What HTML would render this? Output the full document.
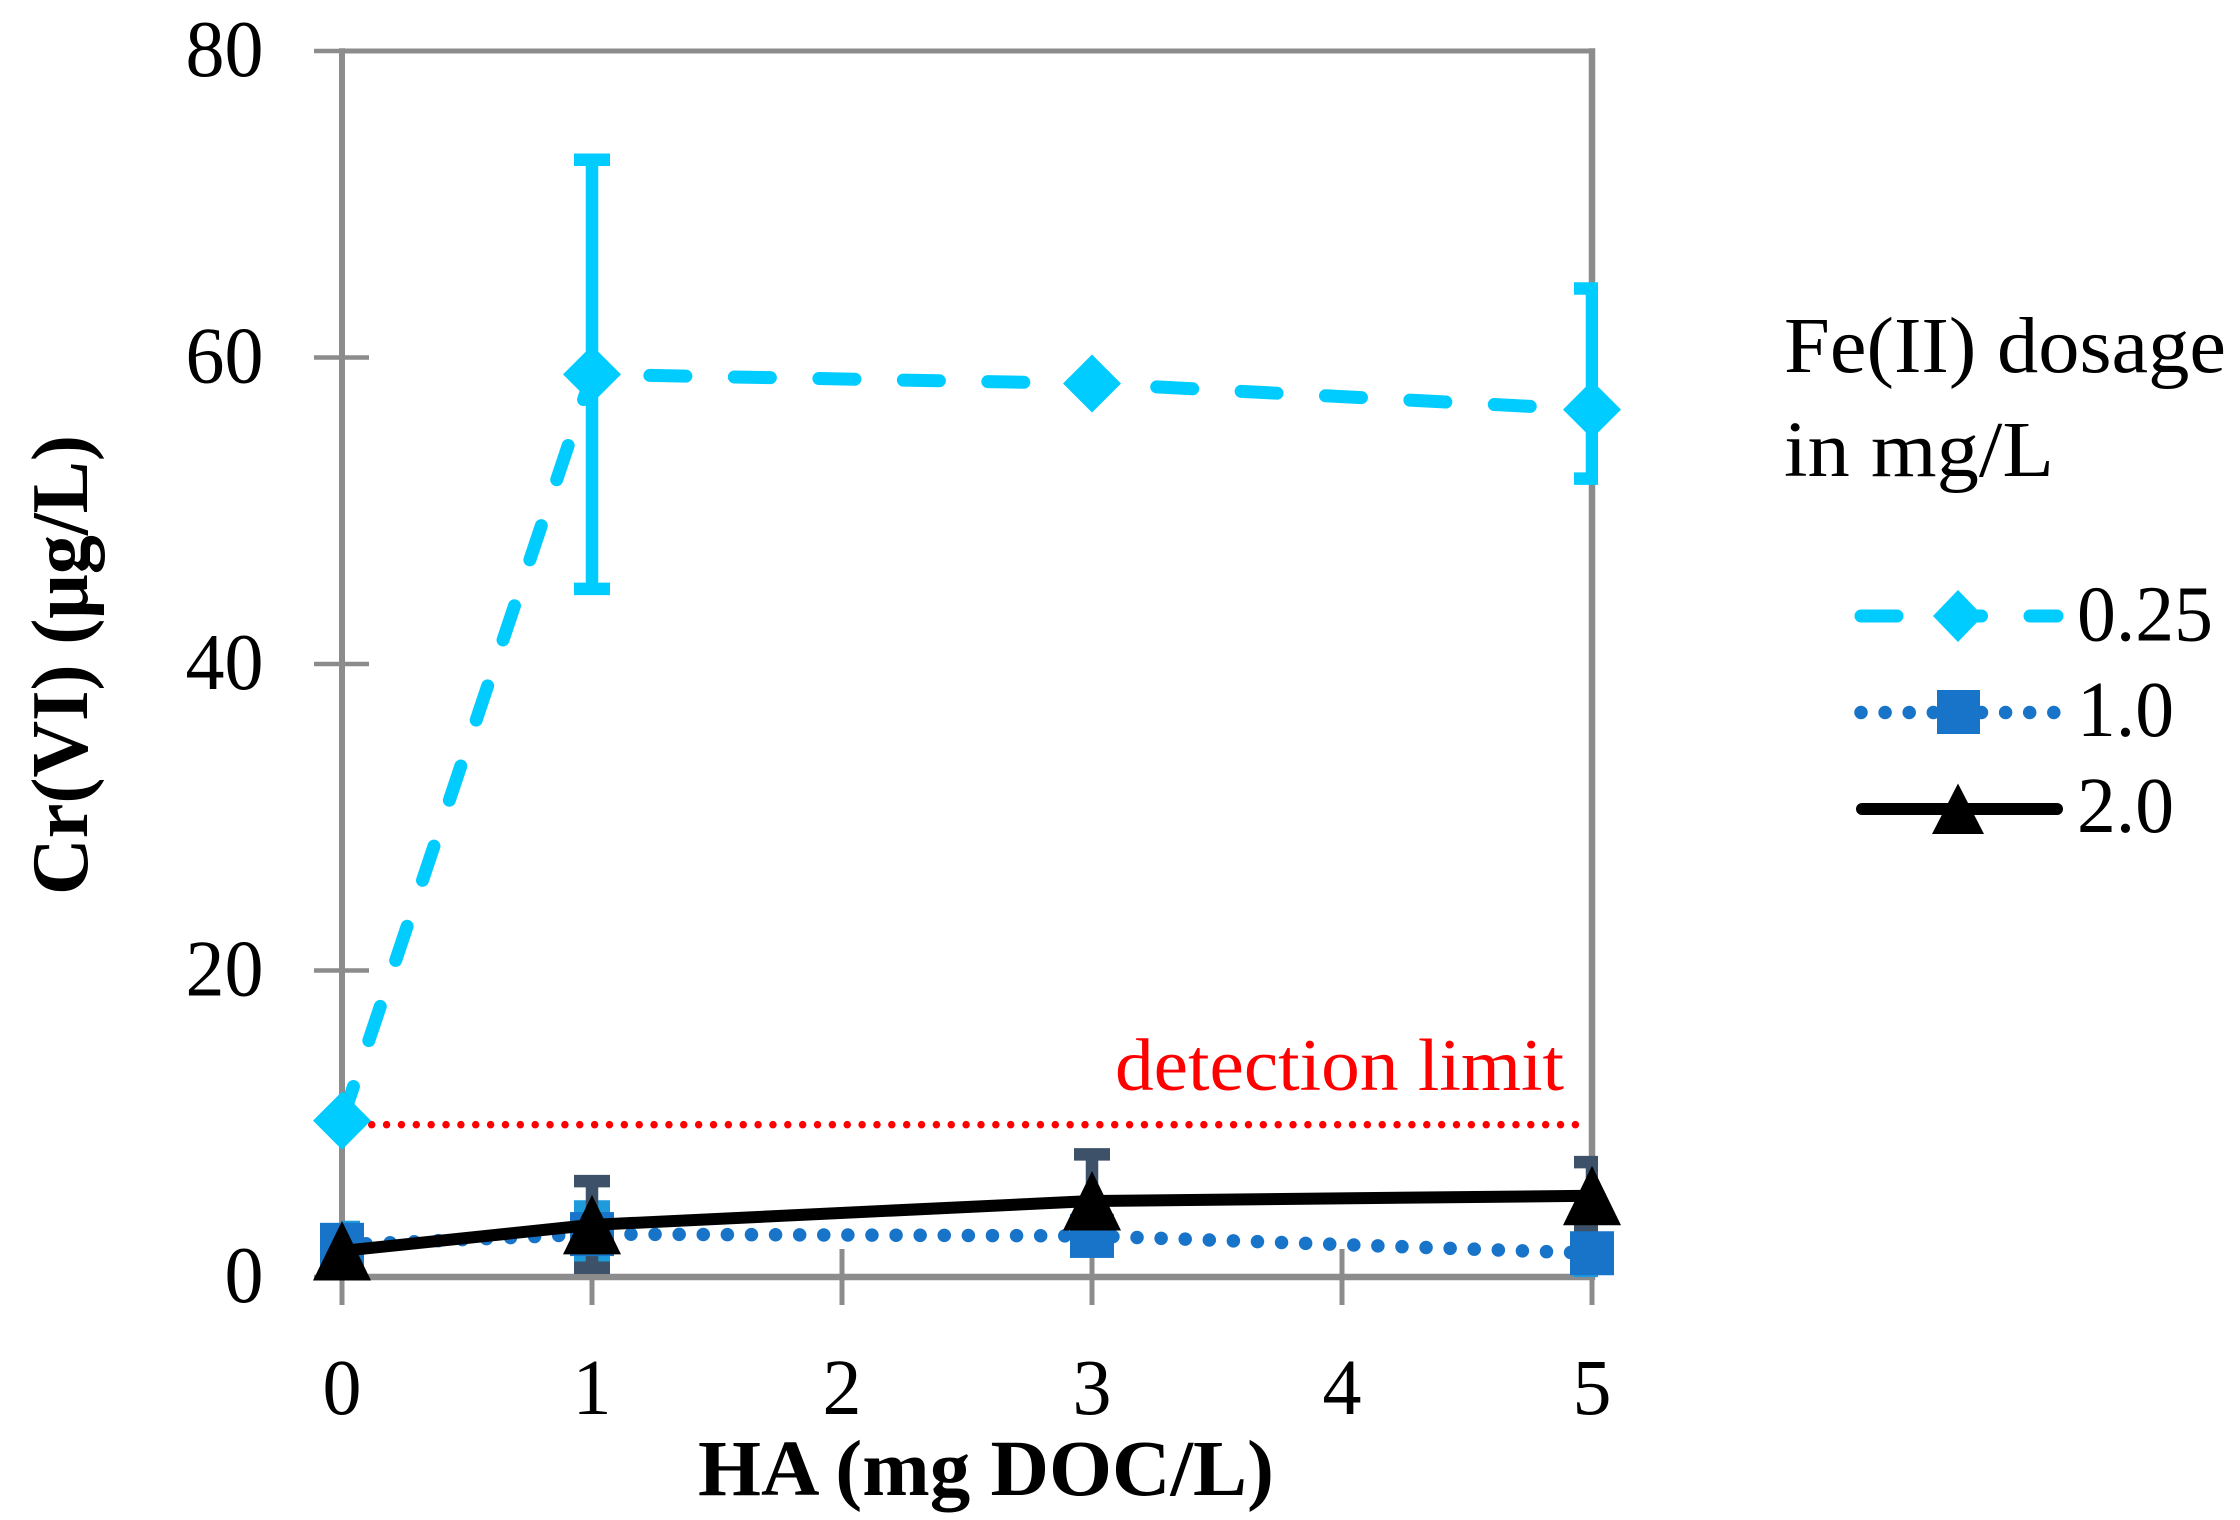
<!DOCTYPE html>
<html lang="en">
<head>
<meta charset="utf-8">
<title>Cr(VI) vs HA chart</title>
<style>
html,body{margin:0;padding:0;background:#fff;width:2240px;height:1520px;overflow:hidden}
svg{display:block}
text{font-family:"Liberation Serif",serif;fill:#000}
</style>
</head>
<body>
<svg id="chart" xmlns="http://www.w3.org/2000/svg" width="2240" height="1520" viewBox="0 0 2240 1520">
  <defs>
    <clipPath id="plot-clip"><rect x="342" y="40" width="1256" height="1245"></rect></clipPath>
  </defs>
  <rect x="0" y="0" width="2240" height="1520" fill="#ffffff"></rect>
  <g id="axes"></g>
  <g id="marks"></g>

  <text transform="translate(87,895) rotate(-90)" font-size="80" font-weight="700" textLength="460" lengthAdjust="spacingAndGlyphs">Cr(VI) (μg/L)</text>
  <text x="698" y="1495" font-size="79" font-weight="700" textLength="576" lengthAdjust="spacingAndGlyphs">HA (mg DOC/L)</text>
  <text x="1115" y="1090" font-size="74" style="fill:#ff0000" textLength="449" lengthAdjust="spacingAndGlyphs">detection limit</text>

  <g>
    <text x="1784" y="372" font-size="79" textLength="442" lengthAdjust="spacingAndGlyphs">Fe(II) dosage</text>
    <text x="1784" y="476" font-size="79" textLength="270" lengthAdjust="spacingAndGlyphs">in mg/L</text>

    <g>
      <line x1="1861" y1="616" x2="2057" y2="616" stroke="#00ccff" stroke-width="13" stroke-linecap="round" stroke-dasharray="36 48.5"></line>
      <polygon points="1958,590 1983,616 1958,642 1933,616" fill="#00ccff"></polygon>
      <text x="2077" y="640.5" font-size="79" textLength="136" lengthAdjust="spacingAndGlyphs">0.25</text>
    </g>
    <g>
      <line x1="1861" y1="712.5" x2="2057" y2="712.5" stroke="#1874c8" stroke-width="13.5" stroke-linecap="round" stroke-dasharray="0 24.1"></line>
      <rect x="1937" y="690" width="43" height="44" fill="#1874c8"></rect>
      <text x="2077" y="736" font-size="79" textLength="97" lengthAdjust="spacingAndGlyphs">1.0</text>
    </g>
    <g>
      <line x1="1862" y1="809" x2="2057" y2="809" stroke="#000000" stroke-width="12" stroke-linecap="round"></line>
      <polygon points="1958,783.5 1984,834 1932,834" fill="#000000"></polygon>
      <text x="2077" y="832" font-size="79" textLength="97" lengthAdjust="spacingAndGlyphs">2.0</text>
    </g>
  </g>
</svg>

<script>
// Chart data
const xCategories = [0, 1, 3, 5];
const xTickLabels = [0, 1, 2, 3, 4, 5];
const yTickLabels = [0, 20, 40, 60, 80];
const detectionLimit = [9.94];

const dose025Values = [10.2, 58.9, 58.3, 56.6];
const dose025High = [null, 72.9, null, 64.5];
const dose025Low = [null, 44.9, null, 52.1];

const dose10Values = [2.1, 2.8, 2.68, 1.55];
const dose10High = [3.26, 4.6, 3.2, 2.7];
const dose10Low = [0.9, 1.4, 2.1, 0.4];

const dose20Values = [1.7, 3.4, 4.96, 5.3];
const dose20High = [null, 6.26, 8.0, 7.5];
const dose20Low = [null, 0.6, 1.9, 3.1];

// Axis functions
const xMin = 0, xMax = 5, yMin = 0, yMax = 80;
const plotLeft = 342, plotRight = 1592, plotTop = 51, plotBottom = 1277;
function xScale(v) { return plotLeft + (v - xMin) / (xMax - xMin) * (plotRight - plotLeft); }
function yScale(v) { return plotBottom - (v - yMin) / (yMax - yMin) * (plotBottom - plotTop); }

const NS = 'http://www.w3.org/2000/svg';
function make(tag, attrs, parent) {
  const node = document.createElementNS(NS, tag);
  for (const k in attrs) node.setAttribute(k, attrs[k]);
  parent.appendChild(node);
  return node;
}

const axes = document.getElementById('axes');
const marks = document.getElementById('marks');
const AXIS = '#8c8c8c';
let el;

// Plot frame
el = make('line', {x1: plotLeft, y1: plotTop - 2.7, x2: plotLeft, y2: plotBottom + 3, stroke: AXIS, 'stroke-width': 6}, axes);


el = make('line', {x1: plotRight, y1: plotTop - 2.7, x2: plotRight, y2: plotBottom + 3, stroke: AXIS, 'stroke-width': 6.5}, axes);


el = make('line', {x1: plotLeft, y1: plotTop, x2: plotRight + 3, y2: plotTop, stroke: AXIS, 'stroke-width': 5}, axes);


el = make('line', {x1: plotLeft - 3, y1: plotBottom, x2: plotRight + 3, y2: plotBottom, stroke: AXIS, 'stroke-width': 6.5}, axes);



// Y ticks
yTickLabels.forEach(function (t) {
  const y = yScale(t);
  let tick = make('line', {x1: 314, y1: y, x2: 369, y2: y, stroke: AXIS, 'stroke-width': 4.5}, axes);
  
  
  const s = String(t);
  let label = make('text', {x: 263.5, y: y + 25, 'font-size': 81, 'text-anchor': 'end', textLength: 39 * s.length, lengthAdjust: 'spacingAndGlyphs'}, axes);
  label.textContent = s;
  
  
});

// X ticks
xTickLabels.forEach(function (t) {
  const x = xScale(t);
  let tick = make('line', {x1: x, y1: 1249, x2: x, y2: 1305, stroke: AXIS, 'stroke-width': 5}, axes);
  
  
  let label = make('text', {x: x, y: 1414, 'font-size': 79, 'text-anchor': 'middle', textLength: 39, lengthAdjust: 'spacingAndGlyphs'}, axes);
  label.textContent = String(t);
  
  
});

// Detection limit line
el = make('line', {x1: xScale(xMin), y1: yScale(detectionLimit[0]), x2: xScale(xMax) - 2, y2: yScale(detectionLimit[0]), stroke: '#ff0000', 'stroke-width': 7.5, 'stroke-linecap': 'round', 'stroke-dasharray': '0 14.86'}, marks);



// Error bars
function drawErrors(values, high, low, color, name, group) {
  xCategories.forEach(function (c, i) {
    if (high[i] === null) return;
    const x = xScale(c);
    const yh = yScale(high[i]);
    const yl = yScale(low[i]);
    let stem = make('line', {x1: x, y1: yh, x2: x, y2: yl, stroke: color, 'stroke-width': 12.5}, group);
    
    
    let capHigh = make('line', {x1: x - 18, y1: yh, x2: x + 18, y2: yh, stroke: color, 'stroke-width': 12.5}, group);
    
    
    let capLow = make('line', {x1: x - 18, y1: yl, x2: x + 18, y2: yl, stroke: color, 'stroke-width': 12.5}, group);
    
    
  });
}

const errorGroup = make('g', {'clip-path': 'url(#plot-clip)'}, marks);


drawErrors(dose10Values, dose10High, dose10Low, '#1f9bdc', 'dose-1.0', errorGroup);
drawErrors(dose20Values, dose20High, dose20Low, '#3d5269', 'dose-2.0', errorGroup);
drawErrors(dose025Values, dose025High, dose025Low, '#00ccff', 'dose-0.25', errorGroup);

// Series lines
function pointsOf(values) {
  return xCategories.map(function (c, i) { return xScale(c) + ',' + yScale(values[i]); }).join(' ');
}

el = make('polyline', {points: pointsOf(dose025Values), fill: 'none', stroke: '#00ccff', 'stroke-width': 13, 'stroke-linecap': 'round', 'stroke-linejoin': 'round', 'stroke-dasharray': '36 48.5'}, marks);


el = make('polyline', {points: pointsOf(dose10Values), fill: 'none', stroke: '#1874c8', 'stroke-width': 13.5, 'stroke-linecap': 'round', 'stroke-linejoin': 'round', 'stroke-dasharray': '0 24.1'}, marks);



// Markers for 0.25 and 1.0 below the 2.0 series
xCategories.forEach(function (c, i) {
  const x = xScale(c), y = yScale(dose025Values[i]);
  let m = make('polygon', {points: [x + ',' + (y - 29), (x + 29) + ',' + y, x + ',' + (y + 29), (x - 29) + ',' + y].join(' '), fill: '#00ccff'}, marks);
  
  
});
xCategories.forEach(function (c, i) {
  const x = xScale(c), y = yScale(dose10Values[i]);
  let m = make('rect', {x: x - 22, y: y - 22, width: 44, height: 44, fill: '#1874c8'}, marks);
  
  
});

el = make('polyline', {points: pointsOf(dose20Values), fill: 'none', stroke: '#000000', 'stroke-width': 12, 'stroke-linejoin': 'round'}, marks);


xCategories.forEach(function (c, i) {
  const x = xScale(c), y = yScale(dose20Values[i]);
  let m = make('polygon', {points: [x + ',' + (y - 30), (x + 29) + ',' + (y + 29.5), (x - 29) + ',' + (y + 29.5)].join(' '), fill: '#000000'}, marks);
  
  
});
</script>
</body>
</html>
